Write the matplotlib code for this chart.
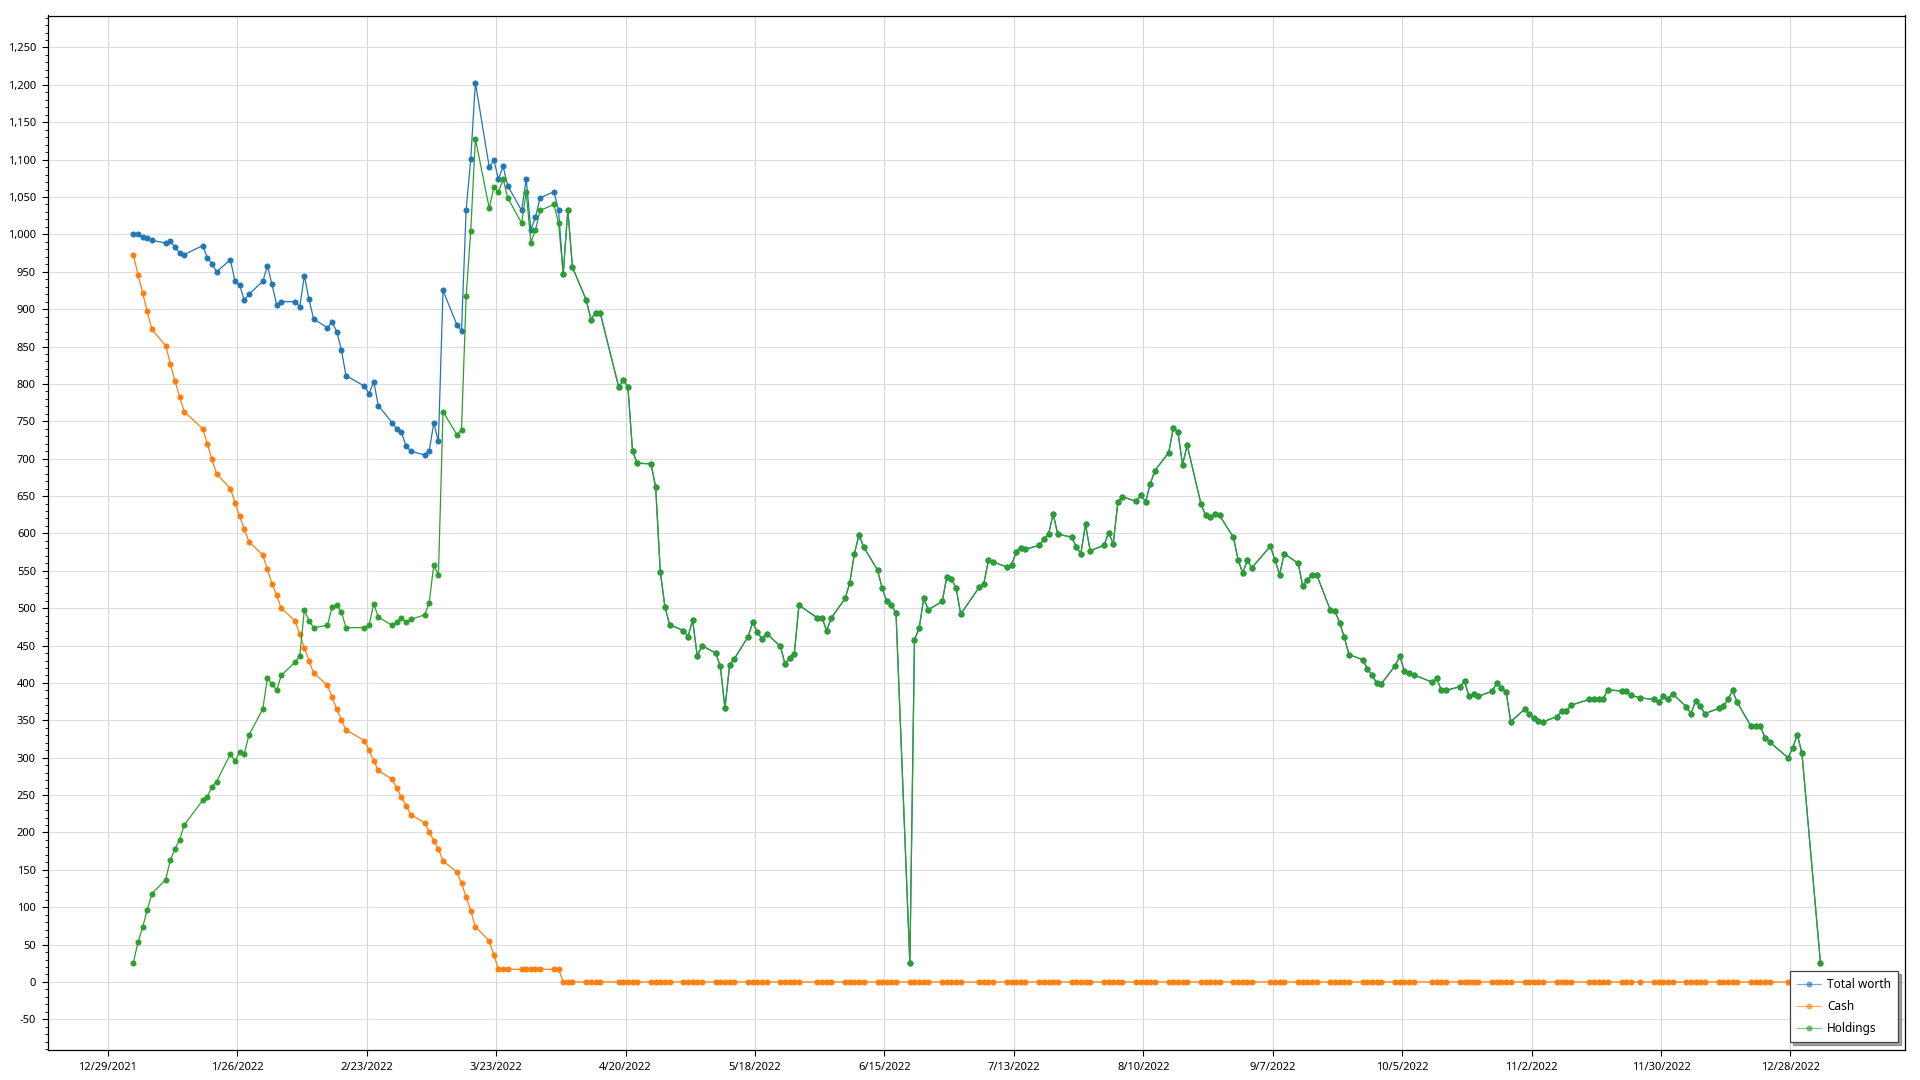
import matplotlib
matplotlib.use("Agg")
import matplotlib.pyplot as plt
import matplotlib.dates as mdates
from matplotlib.ticker import MultipleLocator, FuncFormatter, FixedLocator
import pandas as pd

plt.rcParams['font.family'] = ['Noto Sans', 'DejaVu Sans']

# ---------------- data ----------------
# trading days shown on the chart (weekdays minus days with no point)
first_day = '2022-01-03'
last_day = '2023-01-03'
days_without_point = ['2022-01-17', '2022-02-21', '2022-04-15', '2022-05-30',
                      '2022-07-04', '2022-09-05', '2022-10-10', '2022-11-11',
                      '2022-11-24', '2022-12-26', '2023-01-02']

# Holdings (green), one value per day
holdings = [
    # Jan
    26, 53, 73, 96, 118, 137, 163, 178, 190, 210, 243, 248, 261, 268, 305, 295, 308, 305, 330, 365,
    # Feb
    406, 399, 390, 410, 428, 436, 498, 483, 474, 477, 502, 504, 495, 474, 474, 477, 506, 488, 477,
    # Mar
    481, 487, 481, 485, 491, 507, 558, 544, 763, 732, 739, 917, 1005, 1128, 1035, 1063, 1057, 1074,
    1049, 1015, 1057, 989, 1006,
    # Apr
    1032, 1040, 1015, 947, 1033, 956, 912, 886, 895, 895, 796, 805, 796, 710, 694, 693, 662, 549, 502, 478,
    # May
    470, 462, 484, 436, 450, 440, 422, 366, 424, 432, 462, 481, 468, 459, 466, 449, 425, 434, 439, 504, 487,
    # Jun
    487, 470, 487, 513, 534, 573, 598, 582, 551, 527, 509, 504, 494, 25, 458, 473, 513, 498, 509, 542, 539, 527,
    # Jul
    492, 528, 533, 564, 562, 555, 558, 575, 581, 579, 584, 592, 599, 626, 599, 595, 582, 573, 612, 577,
    # Aug
    584, 601, 586, 642, 649, 643, 652, 642, 666, 684, 708, 741, 735, 692, 718, 639, 624, 622, 626, 624,
    595, 565, 547,
    # Sep
    564, 554, 583, 564, 545, 573, 560, 530, 538, 545, 545, 497, 496, 480, 461, 438, 431, 419, 410, 400, 399,
    # Oct
    423, 436, 416, 413, 411, 401, 406, 390, 390, 395, 402, 382, 385, 382, 389, 400, 393, 388, 348, 365,
    # Nov
    359, 353, 349, 348, 355, 362, 362, 370, 378, 378.5, 379, 378.5, 391, 389, 389, 383.5, 380, 378, 374.5, 382,
    # Dec
    378.5, 385.6, 368, 359, 376, 369, 359, 366, 369, 378, 390, 374, 342, 342, 342, 327, 321, 300, 313, 331, 306,
    # Jan 2023
    26,
]

# Total worth (blue) while cash was still held (Jan 3 .. Apr 5); afterwards it coincides with holdings
total_worth_early = [
    1000, 1000, 996, 995, 992, 988.5, 991, 983, 975, 973, 985, 969, 961, 950, 966, 937, 932, 912, 920, 937,
    958, 933, 906, 910, 910, 903, 945, 913, 887, 875, 883, 870, 846, 811, 797, 787, 803, 771, 748,
    740, 735, 717, 710, 705, 710, 748, 723, 925, 879, 871, 1033, 1101, 1203, 1090, 1099, 1074, 1091,
    1065, 1032, 1074, 1006, 1023,
    1049, 1057, 1032,
]

# Cash (orange) until it reached zero
cash_early = [
    973, 946, 922, 897, 873, 851, 827, 804, 783, 763, 740, 720, 699, 680, 660, 641, 623, 606, 589, 571,
    552, 533, 517, 500, 483, 465, 447, 430, 413, 397, 381, 365, 351, 337, 323, 310, 296, 283, 271,
    259, 247, 236, 224, 213, 201, 189, 178, 162, 147, 132, 114, 95, 74, 55, 36, 17, 17,
    17, 17, 17, 17, 17,
    17, 17, 17,
]
cash_after = 0

series_names = ['Total worth', 'Cash', 'Holdings']
series_colors = ['#1f77b4', '#ff7f0e', '#2ca02c']

# ---------------- build ----------------
dates = pd.bdate_range(first_day, last_day)
dates = dates[~dates.isin(pd.to_datetime(days_without_point))]
xpos = dates + pd.Timedelta(hours=12)
n = len(dates)
total_worth = total_worth_early + holdings[len(total_worth_early):]
cash = cash_early + [cash_after] * (n - len(cash_early))

fig = plt.figure(figsize=(19.2, 10.8), dpi=100)
ax = fig.add_axes([48.3 / 1920, 1 - 1050 / 1080, (1905 - 48.3) / 1920, (1050 - 15.5) / 1080])

for name, vals, col in zip(series_names, [total_worth, cash, holdings], series_colors):
    ax.plot(xpos, vals, color=col, lw=0.9, marker='o', markersize=3.8,
            markeredgewidth=0.5, markeredgecolor=col, label=name)

origin = pd.Timestamp('2021-12-29')
ax.set_xlim(origin - pd.Timedelta(days=12.9), origin + pd.Timedelta(days=388.8))
ax.set_ylim(-91, 1292.8)

tick_dates = pd.date_range('2021-12-29', '2022-12-28', freq='28D')
ax.xaxis.set_major_locator(FixedLocator(mdates.date2num(tick_dates)))
ax.xaxis.set_major_formatter(FuncFormatter(
    lambda v, p: (lambda d: f"{d.month}/{d.day}/{d.year}")(mdates.num2date(v))))
ax.yaxis.set_major_locator(MultipleLocator(50))
ax.yaxis.set_minor_locator(MultipleLocator(10))
ax.yaxis.set_major_formatter(FuncFormatter(lambda v, p: f"{int(round(v)):,}"))

ax.grid(True, which='major', axis='y', color='#dedede', lw=0.75)
ax.grid(True, which='major', axis='x', color='#d6d6d6', lw=0.75)
ax.set_axisbelow(True)

ax.tick_params(axis='both', which='major', direction='out', length=4, width=0.8,
               labelsize=8, colors='black', pad=5)
ax.tick_params(axis='y', which='minor', direction='out', length=2.2, width=0.6)
for s in ax.spines.values():
    s.set_color('black')
    s.set_linewidth(0.9)

leg = ax.legend(loc='lower right', bbox_to_anchor=(1898 / 1920, 1 - 1042 / 1080),
                bbox_transform=fig.transFigure, borderaxespad=0, fontsize=8.5,
                frameon=True, fancybox=False, shadow=True, edgecolor='#444444',
                handlelength=2.0, handletextpad=0.5, labelspacing=0.75, borderpad=0.6)
leg.get_frame().set_linewidth(0.9)
for h in leg.legend_handles:
    h.set_alpha(0.6)

fig.savefig('out.png', dpi=100, facecolor='white')
